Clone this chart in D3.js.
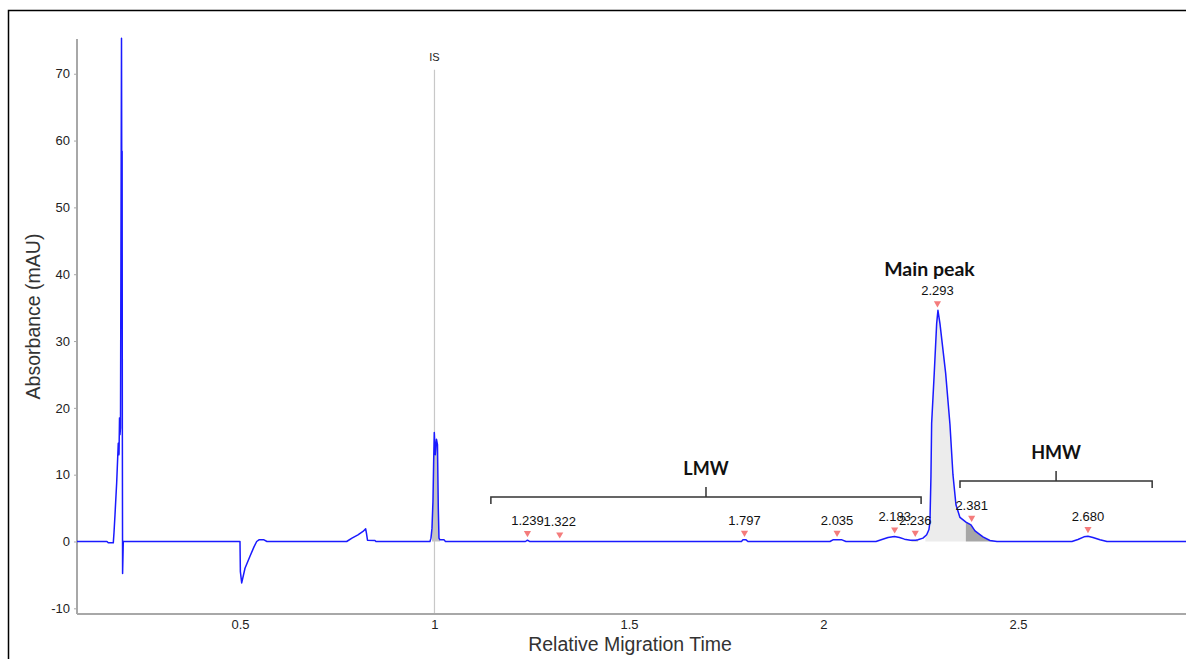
<!DOCTYPE html>
<html>
<head>
<meta charset="utf-8">
<script src="https://cdn.jsdelivr.net/npm/d3@7"></script>
<style>
  body { margin: 0; background: #fff; }
  svg { display: block; }
</style>
</head>
<body>
<div id="chart"></div>
<script>
// electropherogram trace (relative migration time, absorbance mAU)
const migTime = [
  0.081, 0.158, 0.1614, 0.1743, 0.1761, 0.1787, 0.1830, 0.1871, 0.1890, 0.1903, 0.1915, 0.1928,
  0.1954, 0.1960, 0.1970, 0.1976, 0.1982, 0.2000,
  0.5000, 0.5010, 0.5044, 0.5129, 0.5257, 0.5360, 0.5429, 0.5488, 0.5617, 0.5694,
  0.7743, 0.7879, 0.8033, 0.8162, 0.8231, 0.8252, 0.8278, 0.8470, 0.8495,
  0.9884, 0.9910, 0.9936, 0.9961, 0.9979, 0.9995, 1.0021, 1.0051, 1.0077, 1.0098, 1.0116, 1.0141, 1.0244, 1.0283,
  1.2339, 1.2390, 1.2442,
  1.7892, 1.7930, 1.8010, 1.8059,
  2.0167, 2.0244, 2.0476, 2.0578,
  2.1350, 2.1504, 2.1660, 2.1825, 2.1954, 2.2082, 2.2237, 2.2370,
  2.2429, 2.2558, 2.2653, 2.2712, 2.2738, 2.2763, 2.2781, 2.2848, 2.2910, 2.2943, 2.2995,
  2.3141, 2.3252, 2.3329, 2.3406, 2.3509, 2.3663, 2.3792, 2.3895, 2.4100, 2.4280, 2.4460,
  2.6388, 2.6542, 2.6697, 2.6800, 2.6928, 2.7108, 2.7288, 2.9320
];
const absorbance = [
  0, 0, -0.2, -0.2, 1.3, 4, 8.8, 14.7, 13, 18.5, 16, 17,
  75.3, 58.4, 58.4, 16, -4.8, 0,
  0, -4.5, -6.2, -4, -2.2, -0.8, 0, 0.25, 0.25, 0,
  0, 0.5, 1.0, 1.5, 1.9, 1.2, 0.2, 0.15, 0,
  0, 0.5, 2, 6, 12, 16.3, 13, 15.3, 14.5, 5, 0.5, 0.25, 0.25, 0,
  0, 0.2, 0,
  0, 0.25, 0.25, 0,
  0, 0.25, 0.25, 0,
  0, 0.3, 0.6, 0.75, 0.6, 0.35, 0.2, 0.2,
  0.25, 0.5, 1.0, 1.8, 3, 9.7, 17.7, 25.2, 32.6, 34.6, 32.6,
  25.2, 17.5, 10, 5.5, 3.6, 2.9, 2.5, 1.6, 0.7, 0.15, 0,
  0, 0.3, 0.7, 0.8, 0.6, 0.25, 0, 0
];

// integrated peaks
const peakTimes = [1.239, 1.322, 1.797, 2.035, 2.183, 2.236, 2.293, 2.381, 2.680];
const peakHeights = [0.2, 0, 0.25, 0.25, 0.75, 0.25, 34.6, 2.5, 0.8];
const peakLabels = ["1.239", "1.322", "1.797", "2.035", "2.183", "2.236", "2.293", "2.381", "2.680"];

// shaded areas [start, end]
const isArea = [0.9936, 1.0141];
const mainArea = [2.262, 2.366];
const hmwArea = [2.366, 2.446];
const smallArea = [2.226, 2.243];

// region brackets
const bracketNames = ["LMW", "HMW"];
const bracketStart = [1.145, 2.351];
const bracketEnd = [2.251, 2.845];
const bracketLevel = [6.66, 9.06];

const isTime = 1.0, isTop = 70.6;

const yTicks = [-10, 0, 10, 20, 30, 40, 50, 60, 70];
const xTicks = [0.5, 1, 1.5, 2, 2.5];

const width = 1186, height = 659;
const plot = { left: 77, right: 1186, top: 39, bottom: 614 };
const font = "Liberation Sans, Arial, sans-serif";

const svg = d3.select("#chart")
  .append("svg")
    .attr("width", width)
    .attr("height", height);

// frame
svg.append("path")
  .attr("d", `M8.5,${height} V10.5 H${width}`)
  .attr("fill", "none")
  .attr("stroke", "#000")
  .attr("stroke-width", 1.5);

const x = d3.scaleLinear().domain([0.081, 2.932]).range([plot.left, plot.right]);
const y = d3.scaleLinear().domain([-10.85, 75.2]).range([plot.bottom, plot.top]);

const trace = migTime.map((t, i) => ({ t: t, v: absorbance[i] }));

function valueAt(t) {
  for (let i = 1; i < trace.length; i++) {
    if (trace[i].t >= t) {
      const a = trace[i - 1], b = trace[i];
      return a.v + (b.v - a.v) * (t - a.t) / (b.t - a.t);
    }
  }
  return 0;
}

function areaPoints(range) {
  const pts = [{ t: range[0], v: valueAt(range[0]) }];
  trace.forEach(d => { if (d.t > range[0] && d.t < range[1]) pts.push(d); });
  pts.push({ t: range[1], v: valueAt(range[1]) });
  return pts;
}

const area = d3.area()
  .x(d => x(d.t))
  .y0(y(0))
  .y1(d => y(d.v));

// IS marker line
svg.append("line")
  .attr("x1", x(isTime)).attr("x2", x(isTime))
  .attr("y1", y(isTop)).attr("y2", plot.bottom)
  .attr("stroke", "#c8c8c8")
  .attr("stroke-width", 1.2);

svg.append("text")
  .attr("x", x(isTime))
  .attr("y", y(isTop) - 9)
  .attr("text-anchor", "middle")
  .style("font-family", font)
  .style("font-size", "11px")
  .attr("fill", "#222")
  .text("IS");

// shaded peak areas
svg.append("path").datum(areaPoints(isArea)).attr("d", area).attr("fill", "#c4c4c4");
svg.append("path").datum(areaPoints(mainArea)).attr("d", area).attr("fill", "#ececec");
svg.append("path").datum(areaPoints(hmwArea)).attr("d", area).attr("fill", "#a6a6a6");
svg.append("path").datum(areaPoints(smallArea)).attr("d", area).attr("fill", "#b8b8b8");

// axes
const yAxis = svg.append("g")
  .attr("transform", `translate(${plot.left},0)`)
  .call(d3.axisLeft(y).tickValues(yTicks).tickSize(3).tickPadding(4).tickSizeOuter(0)
    .tickFormat(d => String(d)));

const xAxis = svg.append("g")
  .attr("transform", `translate(0,${plot.bottom})`)
  .call(d3.axisBottom(x).tickValues(xTicks).tickSize(0).tickPadding(6).tickSizeOuter(0)
    .tickFormat(d => String(d)));

[yAxis, xAxis].forEach(g => {
  g.select(".domain").attr("stroke", "#a8a8a8").attr("stroke-width", 2);
  g.selectAll(".tick line").attr("stroke", "#a8a8a8");
  g.selectAll(".tick text")
    .attr("fill", "#222")
    .style("font-family", font)
    .style("font-size", "13px");
});
yAxis.select(".domain").attr("d", `M0,${plot.top}V${plot.bottom}`);
xAxis.select(".domain").attr("d", `M${plot.left},0H${plot.right}`);

// trace
svg.append("path")
  .datum(trace)
  .attr("fill", "none")
  .attr("stroke", "#1a1aff")
  .attr("stroke-width", 1.5)
  .attr("stroke-linejoin", "round")
  .attr("d", d3.line().x(d => x(d.t)).y(d => y(d.v)));

// peak markers and labels
const tri = d3.symbol().type(d3.symbolTriangle).size(22);
peakTimes.forEach((t, i) => {
  const py = y(peakHeights[i]);
  svg.append("path")
    .attr("d", tri)
    .attr("transform", `translate(${x(t)},${py - 7}) rotate(180)`)
    .attr("fill", "#f47c7c");
  svg.append("text")
    .attr("x", x(t))
    .attr("y", py - 15)
    .attr("text-anchor", "middle")
    .style("font-family", font)
    .style("font-size", "13px")
    .attr("fill", "#111")
    .text(peakLabels[i]);
});

// brackets
bracketNames.forEach((name, i) => {
  const x0 = x(bracketStart[i]), x1 = x(bracketEnd[i]), by = y(bracketLevel[i]);
  const xm = (x0 + x1) / 2;
  svg.append("path")
    .attr("d", `M${x0},${by + 7} V${by} H${x1} V${by + 7} M${xm},${by} V${by - 10}`)
    .attr("fill", "none")
    .attr("stroke", "#333")
    .attr("stroke-width", 1.5);
  svg.append("text")
    .attr("x", xm)
    .attr("y", by - 22)
    .attr("text-anchor", "middle")
    .style("font-family", "Lato, Open Sans, sans-serif")
    .style("font-weight", "bold")
    .style("font-size", "18px")
    .attr("fill", "#111")
    .text(name);
});

svg.append("text")
  .attr("x", x(2.293) - 8)
  .attr("y", 276)
  .attr("text-anchor", "middle")
  .style("font-family", "Lato, Open Sans, sans-serif")
  .style("font-weight", "bold")
  .style("font-size", "19.5px")
  .attr("fill", "#111")
  .text("Main peak");

// axis titles
svg.append("text")
  .attr("x", 630)
  .attr("y", 651)
  .attr("text-anchor", "middle")
  .style("font-family", font)
  .style("font-size", "19.5px")
  .attr("fill", "#333")
  .text("Relative Migration Time");

svg.append("text")
  .attr("transform", "rotate(-90)")
  .attr("x", -(plot.top + plot.bottom) / 2 + 10)
  .attr("y", 40)
  .attr("text-anchor", "middle")
  .style("font-family", font)
  .style("font-size", "19.5px")
  .attr("fill", "#333")
  .text("Absorbance (mAU)");
</script>
</body>
</html>
